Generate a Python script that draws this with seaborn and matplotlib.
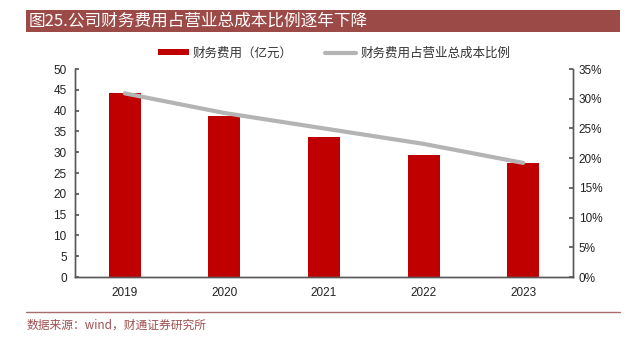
import numpy as np
import pandas as pd
import matplotlib
matplotlib.use("Agg")
import matplotlib.pyplot as plt
from matplotlib.patches import Rectangle
from matplotlib.lines import Line2D
from matplotlib.patches import Patch
from matplotlib.ticker import PercentFormatter
import seaborn as sns

years = ["2019", "2020", "2021", "2022", "2023"]
expense = [44.2, 38.6, 33.6, 29.4, 27.3]
ratio = [30.9, 27.6, 25.0, 22.4, 19.2]
bar_label = "财务费用（亿元）"
line_label = "财务费用占营业总成本比例"
title = "图25.公司财务费用占营业总成本比例逐年下降"
source = "数据来源：wind，财通证券研究所"

sns.set_theme(style="white")
plt.rcParams['font.family'] = ['Liberation Sans', 'Noto Sans CJK SC', 'DejaVu Sans']
cjk = ['Noto Sans CJK SC', 'DejaVu Sans']

fig = plt.figure(figsize=(6.27, 3.45), dpi=100)
ax = fig.add_axes([75/627, 1-277/345, 498/627, 208/345])

df = pd.DataFrame({"year": years, "expense": expense, "ratio": ratio})
sns.barplot(data=df, x="year", y="expense", color="#C00000", width=0.32,
            saturation=1, ax=ax, edgecolor="none")
ax.set_xlim(-0.5, len(years) - 0.5)
ax.set_ylim(0, 50)
ax.set_yticks(np.arange(0, 51, 5))
ax.set_xlabel("")
ax.set_ylabel("")

ax2 = ax.twinx()
sns.lineplot(x=np.arange(len(years)), y=ratio, ax=ax2, color="#B4B4B4",
             linewidth=3, solid_capstyle="round")
ax2.set_ylim(0, 35)
ax2.set_yticks(np.arange(0, 36, 5))
ax2.yaxis.set_major_formatter(PercentFormatter(decimals=0))
ax2.set_xlim(-0.5, len(years) - 0.5)

spine_c = "#595959"
for a in (ax, ax2):
    a.spines["top"].set_visible(False)
    for s in ["left", "right", "bottom"]:
        a.spines[s].set_color(spine_c)
        a.spines[s].set_linewidth(1.0)
ax.tick_params(axis="y", direction="in", length=3, color=spine_c, labelsize=8.5, pad=6, labelcolor="#222222")
ax2.tick_params(axis="y", direction="in", length=3, color=spine_c, labelsize=8.5, pad=4, labelcolor="#222222")
ax.tick_params(axis="x", length=0, labelsize=8.5, pad=7, labelcolor="#222222")

handles = [Patch(facecolor="#C00000", edgecolor="none"),
           Line2D([0], [0], color="#B4B4B4", linewidth=3)]
leg = ax.legend(handles, [bar_label, line_label], loc="center",
                bbox_to_anchor=(0.52, 1.077), ncol=2, frameon=False,
                prop={"family": cjk, "size": 9}, handlelength=2.5,
                handleheight=0.33, columnspacing=2.6, handletextpad=0.3)
for t in leg.get_texts():
    t.set_color("#333333")

# title bar
fig.patches.append(Rectangle((26/627, 1-31.7/345), 594/627, 21.7/345,
                             transform=fig.transFigure, facecolor="#9C4A47",
                             edgecolor="none", zorder=0))
fig.text(29/627, 1-21/345, title, color="white", fontsize=12,
         family=cjk, va="center", ha="left")

# footer line and source
fig.add_artist(Line2D([26/627, 620/627], [1-311.5/345, 1-311.5/345],
                      transform=fig.transFigure, color="#A86B6B", linewidth=1))
fig.text(27/627, 1-325/345, source, color="#9E4F4F", fontsize=8.5,
         family=cjk, va="center", ha="left")

fig.savefig("out.png", dpi=100)
